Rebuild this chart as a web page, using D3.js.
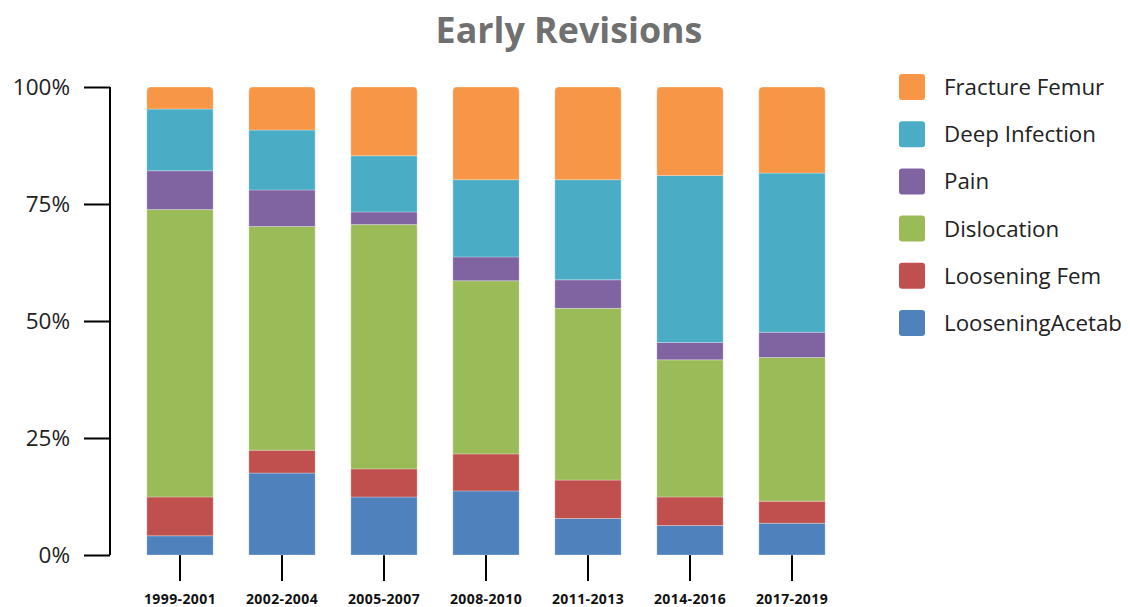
<!DOCTYPE html>
<html>
<head>
<meta charset="utf-8">
<script src="https://d3js.org/d3.v7.min.js"></script>
<style>
  body { margin: 0; background: #fff; }
  svg { display: block; font-family: "Open Sans", sans-serif; }
</style>
</head>
<body>
<script>
// periods on the x axis
var periods = ["1999-2001", "2002-2004", "2005-2007", "2008-2010", "2011-2013", "2014-2016", "2017-2019"];

// series, bottom to top (percent of early revisions)
var looseningAcetab = [4.1, 17.5, 12.4, 13.7, 7.8, 6.3, 6.8];
var looseningFem    = [8.3, 4.9, 6.0, 7.9, 8.2, 6.1, 4.7];
var dislocation     = [61.4, 47.8, 52.2, 37.0, 36.7, 29.3, 30.7];
var pain            = [8.3, 7.8, 2.7, 5.1, 6.1, 3.7, 5.4];
var deepInfection   = [13.2, 12.8, 12.0, 16.5, 21.4, 35.7, 34.0];
var fractureFemur   = [4.7, 9.2, 14.7, 19.8, 19.8, 18.9, 18.4];

var seriesNames = ["LooseningAcetab", "Loosening Fem", "Dislocation", "Pain", "Deep Infection", "Fracture Femur"];
var seriesValues = [looseningAcetab, looseningFem, dislocation, pain, deepInfection, fractureFemur];
var seriesColors = ["#4F81BD", "#C0504D", "#9BBB59", "#8064A2", "#4BACC6", "#F79646"];

var yTicks = [0, 25, 50, 75, 100];

var width = 1130, height = 607;

var svg = d3.select("body").append("svg")
  .attr("width", width)
  .attr("height", height);

// build rows for d3.stack
var rows = periods.map(function(p, i) {
  var r = { period: p };
  seriesNames.forEach(function(n, k) { r[n] = seriesValues[k][i]; });
  return r;
});

var stacked = d3.stack().keys(seriesNames)(rows);

var x = d3.scaleBand()
  .domain(periods)
  .range([129, 843])
  .paddingInner(0.35)
  .paddingOuter(0.175);

var y = d3.scaleLinear()
  .domain([0, 100])
  .range([555, 87]);

var color = d3.scaleOrdinal().domain(seriesNames).range(seriesColors);

// title
svg.append("text")
  .attr("x", 569)
  .attr("y", 43)
  .attr("text-anchor", "middle")
  .style("font-size", "35.8px")
  .style("font-weight", "bold")
  .style("fill", "#707070")
  .text("Early Revisions");

// y axis
var yAxis = svg.append("g")
  .attr("transform", "translate(110,0)")
  .call(d3.axisLeft(y).tickValues(yTicks).tickSize(26).tickPadding(14)
    .tickFormat(function(d) { return d + "%"; }));
yAxis.select(".domain").attr("d", "M0," + y(100) + "V" + y(0)).style("stroke", "#000").style("stroke-width", 2);
yAxis.selectAll(".tick line").style("stroke", "#000").style("stroke-width", 2);
yAxis.selectAll(".tick text")
  .style("font-size", "22.5px")
  .style("fill", "#222")
  .style("font-family", "'Open Sans', sans-serif");

// x axis (ticks only, no line)
var xAxis = svg.append("g")
  .attr("transform", "translate(0,555)")
  .call(d3.axisBottom(x).tickSize(26));
xAxis.select(".domain").remove();
xAxis.selectAll(".tick line").style("stroke", "#000").style("stroke-width", 2);
xAxis.selectAll(".tick text")
  .attr("y", 49)
  .attr("dy", 0)
  .style("font-size", "14px")
  .style("font-weight", "bold")
  .style("letter-spacing", "0.4px")
  .style("fill", "#111")
  .style("font-family", "'Open Sans', sans-serif");

// bars
var layers = svg.append("g").selectAll("g")
  .data(stacked)
  .join("g")
  .attr("fill", function(d) { return color(d.key); });

var topIndex = stacked.length - 1;

layers.each(function(layer, li) {
  d3.select(this).selectAll("path")
    .data(layer)
    .join("path")
    .attr("d", function(d) {
      var x0 = x(d.data.period), w = x.bandwidth();
      var yTop = y(d[1]), yBot = y(d[0]);
      var r = li === topIndex ? 4 : 0;
      return "M" + x0 + "," + yBot +
        "V" + (yTop + r) +
        (r ? "Q" + x0 + "," + yTop + " " + (x0 + r) + "," + yTop : "") +
        "H" + (x0 + w - r) +
        (r ? "Q" + (x0 + w) + "," + yTop + " " + (x0 + w) + "," + (yTop + r) : "") +
        "V" + yBot + "Z";
    })
    .style("stroke", "rgba(255,255,255,0.35)")
    .style("stroke-width", 0.8);
});

// legend, top series first
var legendNames = seriesNames.slice().reverse();
var legend = svg.append("g").selectAll("g")
  .data(legendNames)
  .join("g")
  .attr("transform", function(d, i) { return "translate(899," + (74 + i * 47.2) + ")"; });

legend.append("rect")
  .attr("width", 26)
  .attr("height", 26)
  .attr("rx", 3)
  .attr("fill", function(d) { return color(d); });

legend.append("text")
  .attr("x", 45)
  .attr("y", 21)
  .style("font-size", "22.3px")
  .style("fill", "#222")
  .text(function(d) { return d; });
</script>
</body>
</html>
